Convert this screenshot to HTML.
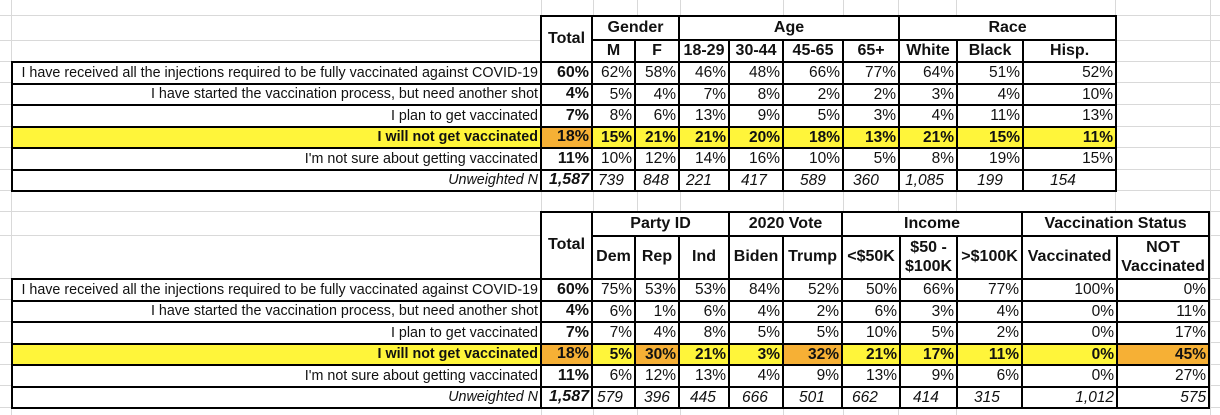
<!DOCTYPE html>
<html><head><meta charset="utf-8"><style>
*{margin:0;padding:0;box-sizing:border-box}
body{width:1220px;height:415px;background:#fff;position:relative;overflow:hidden;font-family:"Liberation Sans",Arial,sans-serif;color:#111}
.g{position:absolute;background:#d9d9d9}
table{position:absolute;left:11px;border-collapse:collapse;table-layout:fixed}
td{border:2px solid #000;font-size:15.5px;text-align:right;padding:0 2px 0 1px;white-space:nowrap;overflow:hidden;line-height:1;background:#fff}
td.l{font-size:14.3px}
td.n{border:none}
th{border:2px solid #000;font-size:16px;font-weight:bold;text-align:center;line-height:1.15;white-space:nowrap;overflow:hidden;background:#fff}
th.n{border:none;background:transparent}
.t{font-weight:bold;font-size:16px}
.y td{background:#fff53a;font-weight:bold}
.y td.o{background:#f6b035}
.i td{font-style:italic;text-align:left}
.i td.t{text-align:right}
.r{height:21.5px}
</style></head><body>
<div class="g" style="left:11px;top:0;width:1px;height:415px"></div>
<div class="g" style="left:1210px;top:0;width:1px;height:415px"></div>
<div class="g" style="left:1115px;top:0;width:1px;height:211px"></div>
<div class="g" style="left:0;top:15px;width:1220px;height:1px"></div>
<div class="g" style="left:0;top:40px;width:1220px;height:1px"></div>
<div class="g" style="left:0;top:61px;width:1220px;height:1px"></div>
<div class="g" style="left:0;top:82px;width:1220px;height:1px"></div>
<div class="g" style="left:0;top:104px;width:1220px;height:1px"></div>
<div class="g" style="left:0;top:126px;width:1220px;height:1px"></div>
<div class="g" style="left:0;top:147px;width:1220px;height:1px"></div>
<div class="g" style="left:0;top:169px;width:1220px;height:1px"></div>
<div class="g" style="left:0;top:190px;width:1220px;height:1px"></div>
<div class="g" style="left:0;top:211px;width:1220px;height:1px"></div>
<div class="g" style="left:0;top:235px;width:1220px;height:1px"></div>
<div class="g" style="left:0;top:278px;width:1220px;height:1px"></div>
<div class="g" style="left:0;top:299px;width:1220px;height:1px"></div>
<div class="g" style="left:0;top:321px;width:1220px;height:1px"></div>
<div class="g" style="left:0;top:342px;width:1220px;height:1px"></div>
<div class="g" style="left:0;top:364px;width:1220px;height:1px"></div>
<div class="g" style="left:0;top:385px;width:1220px;height:1px"></div>
<div class="g" style="left:0;top:407px;width:1220px;height:1px"></div>
<div class="g" style="left:541px;top:0;width:1px;height:415px"></div>
<div class="g" style="left:593px;top:0;width:1px;height:415px"></div>
<div class="g" style="left:637px;top:0;width:1px;height:415px"></div>
<div class="g" style="left:680px;top:0;width:1px;height:415px"></div>
<div class="g" style="left:783px;top:0;width:1px;height:415px"></div>
<div class="g" style="left:843px;top:0;width:1px;height:415px"></div>
<div class="g" style="left:898px;top:0;width:1px;height:415px"></div>
<div class="g" style="left:956px;top:0;width:1px;height:415px"></div>

<table style="top:15px;width:1104px">
<colgroup><col style="width:529px"><col style="width:51px"><col style="width:43px"><col style="width:44px"><col style="width:50px"><col style="width:54px"><col style="width:60px"><col style="width:56px"><col style="width:58px"><col style="width:66px"><col style="width:93px"></colgroup>
<tr style="height:24px"><th class="n"></th><th rowspan="2">Total</th><th colspan="2">Gender</th><th colspan="4">Age</th><th colspan="3">Race</th></tr>
<tr style="height:22px"><th class="n"></th><th>M</th><th>F</th><th>18-29</th><th>30-44</th><th>45-65</th><th>65+</th><th>White</th><th>Black</th><th>Hisp.</th></tr>
<tr class="r"><td class="l">I have received all the injections required to be fully vaccinated against COVID-19</td><td class="t">60%</td><td>62%</td><td>58%</td><td>46%</td><td>48%</td><td>66%</td><td>77%</td><td>64%</td><td>51%</td><td>52%</td></tr>
<tr class="r"><td class="l">I have started the vaccination process, but need another shot</td><td class="t">4%</td><td>5%</td><td>4%</td><td>7%</td><td>8%</td><td>2%</td><td>2%</td><td>3%</td><td>4%</td><td>10%</td></tr>
<tr class="r"><td class="l">I plan to get vaccinated</td><td class="t">7%</td><td>8%</td><td>6%</td><td>13%</td><td>9%</td><td>5%</td><td>3%</td><td>4%</td><td>11%</td><td>13%</td></tr>
<tr class="r y"><td class="l">I will not get vaccinated</td><td class="t o">18%</td><td>15%</td><td>21%</td><td>21%</td><td>20%</td><td>18%</td><td>13%</td><td>21%</td><td>15%</td><td>11%</td></tr>
<tr class="r"><td class="l">I'm not sure about getting vaccinated</td><td class="t">11%</td><td>10%</td><td>12%</td><td>14%</td><td>16%</td><td>10%</td><td>5%</td><td>8%</td><td>19%</td><td>15%</td></tr>
<tr class="r i"><td class="l" style="text-align:right">Unweighted N</td><td class="t">1,587</td><td style="padding-left:5px">739</td><td style="padding-left:7px">848</td><td style="padding-left:6px">221</td><td style="padding-left:11px">417</td><td style="padding-left:16px">589</td><td style="padding-left:9px">360</td><td style="padding-left:5px">1,085</td><td style="padding-left:19px">199</td><td style="padding-left:26px">154</td></tr>
</table>

<table style="top:211px;width:1197px">
<colgroup><col style="width:529px"><col style="width:51px"><col style="width:43px"><col style="width:44px"><col style="width:50px"><col style="width:54px"><col style="width:59px"><col style="width:58px"><col style="width:57px"><col style="width:65px"><col style="width:95px"><col style="width:92px"></colgroup>
<tr style="height:24px"><th class="n"></th><th rowspan="2">Total</th><th colspan="3">Party ID</th><th colspan="2">2020 Vote</th><th colspan="3">Income</th><th colspan="2">Vaccination Status</th></tr>
<tr style="height:43px"><th class="n"></th><th>Dem</th><th>Rep</th><th>Ind</th><th>Biden</th><th>Trump</th><th>&lt;$50K</th><th>$50 -<br>$100K</th><th>&gt;$100K</th><th>Vaccinated</th><th>NOT<br>Vaccinated</th></tr>
<tr class="r"><td class="l">I have received all the injections required to be fully vaccinated against COVID-19</td><td class="t">60%</td><td>75%</td><td>53%</td><td>53%</td><td>84%</td><td>52%</td><td>50%</td><td>66%</td><td>77%</td><td>100%</td><td>0%</td></tr>
<tr class="r"><td class="l">I have started the vaccination process, but need another shot</td><td class="t">4%</td><td>6%</td><td>1%</td><td>6%</td><td>4%</td><td>2%</td><td>6%</td><td>3%</td><td>4%</td><td>0%</td><td>11%</td></tr>
<tr class="r"><td class="l">I plan to get vaccinated</td><td class="t">7%</td><td>7%</td><td>4%</td><td>8%</td><td>5%</td><td>5%</td><td>10%</td><td>5%</td><td>2%</td><td>0%</td><td>17%</td></tr>
<tr class="r y"><td class="l">I will not get vaccinated</td><td class="t o">18%</td><td>5%</td><td class="o">30%</td><td>21%</td><td>3%</td><td class="o">32%</td><td>21%</td><td>17%</td><td>11%</td><td>0%</td><td class="o">45%</td></tr>
<tr class="r"><td class="l">I'm not sure about getting vaccinated</td><td class="t">11%</td><td>6%</td><td>12%</td><td>13%</td><td>4%</td><td>9%</td><td>13%</td><td>9%</td><td>6%</td><td>0%</td><td>27%</td></tr>
<tr class="r i"><td class="l" style="text-align:right">Unweighted N</td><td class="t">1,587</td><td style="padding-left:4px">579</td><td style="padding-left:8px">396</td><td style="padding-left:10px">445</td><td style="padding-left:12px">666</td><td style="padding-left:15px">501</td><td style="padding-left:9px">662</td><td style="padding-left:12px">414</td><td style="padding-left:16px">315</td><td style="text-align:right">1,012</td><td style="text-align:right">575</td></tr>
</table>
</body></html>
